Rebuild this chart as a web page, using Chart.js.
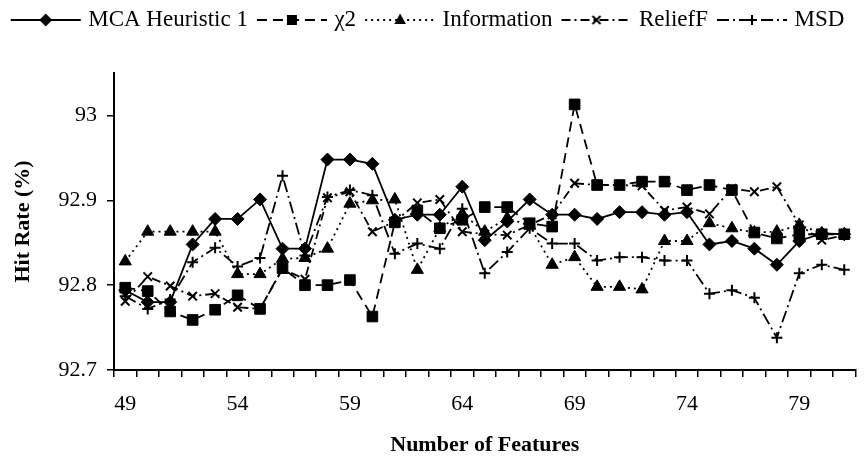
<!DOCTYPE html>
<html>
<head>
<meta charset="utf-8">
<script src="https://cdn.jsdelivr.net/npm/chart.js@4.4.0/dist/chart.umd.min.js"></script>
<style>
html, body { margin: 0; padding: 0; background: #fff; }
#wrap { width: 864px; height: 459px; }
</style>
</head>
<body>
<div id="wrap"><canvas id="hitChart" width="864" height="459"></canvas></div>
<script>
// number of features on the x axis (49..81)
var features = ['49','50','51','52','53','54','55','56','57','58','59','60','61','62','63','64','65',
                '66','67','68','69','70','71','72','73','74','75','76','77','78','79','80','81'];

// hit rate (%) per method
var mcaHeuristic = [92.794, 92.780, 92.780, 92.848, 92.878, 92.878, 92.901, 92.843, 92.843, 92.948, 92.948,
                    92.943, 92.877, 92.883, 92.883, 92.916, 92.853, 92.875, 92.901, 92.883, 92.883, 92.878,
                    92.886, 92.886, 92.883, 92.886, 92.848, 92.852, 92.843, 92.824, 92.852, 92.861, 92.860];
var chiSquare = [92.797, 92.793, 92.769, 92.759, 92.771, 92.788, 92.772, 92.820, 92.800, 92.800, 92.806,
                 92.763, 92.874, 92.888, 92.867, 92.877, 92.892, 92.892, 92.873, 92.869, 93.013, 92.918,
                 92.918, 92.922, 92.922, 92.912, 92.918, 92.912, 92.862, 92.855, 92.860, 92.860, 92.860];
var information = [92.828, 92.863, 92.863, 92.863, 92.863, 92.813, 92.813, 92.831, 92.832, 92.843, 92.896,
                   92.900, 92.901, 92.818, 92.867, 92.884, 92.863, 92.879, 92.870, 92.824, 92.833, 92.798,
                   92.798, 92.795, 92.852, 92.852, 92.873, 92.867, 92.862, 92.863, 92.871, 92.861, 92.860];
var reliefF = [92.781, 92.810, 92.799, 92.787, 92.790, 92.774, 92.772, 92.819, 92.807, 92.903, 92.910,
               92.863, 92.875, 92.897, 92.901, 92.863, 92.860, 92.859, 92.871, 92.883, 92.920, 92.918,
               92.918, 92.917, 92.888, 92.892, 92.884, 92.914, 92.910, 92.916, 92.871, 92.853, 92.859];
var msd = [92.787, 92.772, 92.783, 92.827, 92.844, 92.822, 92.832, 92.929, 92.835, 92.904, 92.912,
           92.906, 92.837, 92.849, 92.843, 92.890, 92.814, 92.839, 92.867, 92.849, 92.849, 92.829,
           92.833, 92.833, 92.829, 92.829, 92.790, 92.794, 92.785, 92.738, 92.814, 92.824, 92.818];

var yTicks = [92.7, 92.8, 92.9, 93];
var seriesNames = ['MCA Heuristic 1', 'χ2', 'Information', 'ReliefF', 'MSD'];

var FONT = '"Liberation Serif", "Times New Roman", serif';

// little marker drawer for the legend samples
function drawMarker(ctx, kind, x, y) {
    ctx.fillStyle = '#000';
    ctx.strokeStyle = '#000';
    ctx.lineWidth = 2;
    ctx.beginPath();
    if (kind == 'rectRot') {
        ctx.moveTo(x - 6.5, y); ctx.lineTo(x, y - 6.5); ctx.lineTo(x + 6.5, y); ctx.lineTo(x, y + 6.5);
        ctx.closePath(); ctx.fill();
    } else if (kind == 'rect') {
        ctx.rect(x - 5, y - 5, 10, 10); ctx.fill();
    } else if (kind == 'triangle') {
        ctx.moveTo(x, y - 6.5); ctx.lineTo(x + 5.8, y + 4); ctx.lineTo(x - 5.8, y + 4);
        ctx.closePath(); ctx.fill();
    } else if (kind == 'crossRot') {
        ctx.moveTo(x - 4, y - 4); ctx.lineTo(x + 4, y + 4);
        ctx.moveTo(x + 4, y - 4); ctx.lineTo(x - 4, y + 4); ctx.stroke();
    } else {
        ctx.moveTo(x - 5, y); ctx.lineTo(x + 5, y);
        ctx.moveTo(x, y - 5); ctx.lineTo(x, y + 5); ctx.stroke();
    }
}

function makeSample(dash, kind) {
    var c = document.createElement('canvas');
    c.width = 72; c.height = 18;
    var ctx = c.getContext('2d');
    ctx.strokeStyle = '#000';
    ctx.lineWidth = 1.8;
    ctx.setLineDash(dash);
    ctx.beginPath(); ctx.moveTo(1, 9); ctx.lineTo(71, 9); ctx.stroke();
    ctx.setLineDash([]);
    drawMarker(ctx, kind, 36, 9);
    return c;
}

var styles = [
    { dash: [],            point: 'rectRot',  radius: 6.5, bw: 1 },
    { dash: [10, 6],       point: 'rect',     radius: 7.5, bw: 1 },
    { dash: [2, 4],        point: 'triangle', radius: 7,   bw: 1 },
    { dash: [9, 4, 2, 4],  point: 'crossRot', radius: 6,   bw: 2 },
    { dash: [12, 4, 2, 4], point: 'cross',    radius: 5.5, bw: 2 }
];
var samples = styles.map(function (s) { return makeSample(s.dash, s.point); });

var seriesData = [mcaHeuristic, chiSquare, information, reliefF, msd];
var datasets = seriesData.map(function (d, i) {
    return {
        label: seriesNames[i],
        data: d,
        borderColor: '#000',
        backgroundColor: '#000',
        borderWidth: 1.8,
        borderDash: styles[i].dash,
        tension: 0,
        pointStyle: styles[i].point,
        pointRadius: styles[i].radius,
        pointBackgroundColor: '#000',
        pointBorderColor: '#000',
        pointBorderWidth: styles[i].bw
    };
});

// push the plot down below the legend
var legendGap = {
    id: 'legendGap',
    beforeInit: function (chart) {
        var fit = chart.legend.fit;
        chart.legend.fit = function () {
            fit.bind(chart.legend)();
            this.height += 31.5;
        };
    }
};

var ctx = document.getElementById('hitChart');
var hitChart = new Chart(ctx, {
    type: 'line',
    data: { labels: features, datasets: datasets },
    plugins: [legendGap],
    options: {
        responsive: false,
        animation: false,
        events: [],
        layout: { padding: { top: -4.5, right: 5, left: 0, bottom: 0 } },
        plugins: {
            tooltip: { enabled: false },
            legend: {
                position: 'top',
                labels: {
                    usePointStyle: true,
                    pointStyleWidth: 62,
                    padding: 13,
                    color: '#000',
                    font: { family: FONT, size: 23 },
                    generateLabels: function (chart) {
                        return chart.data.datasets.map(function (ds, i) {
                            return { text: ds.label, pointStyle: samples[i], datasetIndex: i,
                                     lineWidth: 0, fillStyle: '#000', strokeStyle: '#000', hidden: false };
                        });
                    }
                }
            }
        },
        scales: {
            x: {
                type: 'category',
                offset: true,
                afterFit: function (scale) { scale.height = 89; },
                grid: { offset: true, drawOnChartArea: false, tickLength: 7, color: '#000', lineWidth: 1.5 },
                border: { color: '#000', width: 2 },
                ticks: {
                    autoSkip: false,
                    maxRotation: 0,
                    padding: 14,
                    color: '#000',
                    font: { family: FONT, size: 22 },
                    callback: function (val, idx) { return idx % 5 === 0 ? features[idx] : ''; }
                },
                title: {
                    display: true,
                    text: 'Number of Features',
                    color: '#000',
                    font: { family: FONT, size: 22, weight: 'bold' },
                    padding: { top: 0, bottom: 0 }
                }
            },
            y: {
                min: 92.7,
                max: 93.05,
                afterFit: function (scale) { scale.width = 114; },
                afterBuildTicks: function (scale) {
                    scale.ticks = yTicks.map(function (v) { return { value: v }; });
                },
                grid: { drawOnChartArea: false, tickLength: 7, color: '#000', lineWidth: 1.5 },
                border: { color: '#000', width: 2 },
                ticks: {
                    padding: 10,
                    color: '#000',
                    font: { family: FONT, size: 22 },
                    callback: function (v) { return String(Math.round(v * 10) / 10); }
                },
                title: {
                    display: true,
                    text: 'Hit Rate (%)',
                    color: '#000',
                    font: { family: FONT, size: 22, weight: 'bold' },
                    padding: { top: 10, bottom: 0 }
                }
            }
        }
    }
});
</script>
</body>
</html>
